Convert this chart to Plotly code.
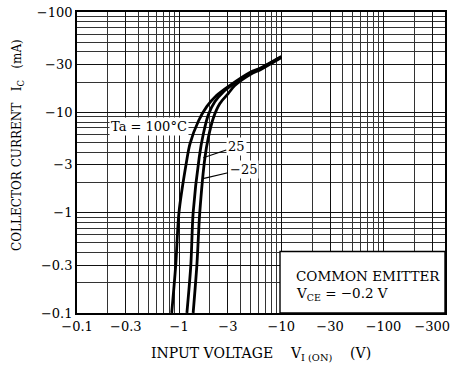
import plotly.graph_objects as go
import math

# ---- data ----
x_tickvals = [0.1, 0.3, 1, 3, 10, 30, 100, 300]
x_ticktext = ["\u22120.1", "\u22120.3", "\u22121", "\u22123", "\u221210", "\u221230", "\u2212100", "\u2212300"]
y_tickvals = [0.1, 0.3, 1, 3, 10, 30, 100]
y_ticktext = ["\u22120.1", "\u22120.3", "\u22121", "\u22123", "\u221210", "\u221230", "\u2212100"]

# |V_I(ON)| (V) and |I_C| (mA) for each ambient temperature
v_100 = [0.845, 0.925, 0.995, 1.166, 1.275, 1.54, 1.86, 2.33, 3.14, 4.93, 6.2, 10.0]
i_100 = [0.1, 0.3, 1.0, 3.0, 4.84, 8.15, 11.4, 14.8, 18.6, 25.0, 27.5, 36.0]
v_25 = [1.19, 1.30, 1.37, 1.573, 1.72, 1.93, 2.24, 2.70, 3.3, 4.95, 6.2, 10.0]
i_25 = [0.1, 0.3, 1.0, 3.59, 6.05, 9.48, 12.8, 16.0, 18.8, 24.6, 27.2, 35.6]
v_m25 = [1.37, 1.49, 1.59, 1.79, 1.93, 2.16, 2.51, 3.02, 3.5, 5.0, 6.3, 10.0]
i_m25 = [0.1, 0.3, 1.0, 3.59, 5.62, 8.8, 12.3, 15.4, 18.5, 24.0, 26.8, 35.2]

FONT = "DejaVu Serif"

fig = go.Figure()
for v, i in [(v_100, i_100), (v_25, i_25), (v_m25, i_m25)]:
    fig.add_trace(go.Scatter(x=v, y=i, mode="lines",
                             line=dict(color="black", width=2.8, shape="spline", smoothing=0.8),
                             showlegend=False, hoverinfo="skip"))

axis_common = dict(
    type="log", showgrid=True, gridcolor="#111", gridwidth=1.3,
    showline=True, linecolor="black", linewidth=1.8, mirror=True,
    ticks="", zeroline=False, ticklabeloverflow="allow",
    tickfont=dict(family=FONT, size=13, color="black"),
    minor=dict(dtick="D1", showgrid=True, gridcolor="#333", gridwidth=0.9),
)

fig.update_xaxes(range=[-1.0003, math.log10(400)], tickmode="array",
                 tickvals=x_tickvals, ticktext=x_ticktext, **axis_common)
fig.update_yaxes(range=[-1.0003, 2.0003], tickmode="array",
                 tickvals=y_tickvals, ticktext=y_ticktext, **axis_common)

W, H = 456, 369
L, R, T, B = 77, 11, 5, 56
pw, ph = W - L - R, H - T - B

def px(xp):
    return (xp - L) / pw

def py(yp):
    return (H - B - yp) / ph

# box holding the measurement condition
fig.add_shape(type="rect", xref="paper", yref="paper",
              x0=px(280), x1=1, y0=0, y1=py(250),
              fillcolor="white", line=dict(color="black", width=1.4), layer="above")

ann = []
ann.append(dict(text="COMMON EMITTER", xref="paper", yref="paper", x=px(294), y=py(275),
                xanchor="left", yanchor="middle", showarrow=False,
                font=dict(family=FONT, size=13.5, color="black")))
ann.append(dict(text="V<sub>CE</sub> = \u22120.2 V", xref="paper", yref="paper", x=px(294), y=py(294),
                xanchor="left", yanchor="middle", showarrow=False,
                font=dict(family=FONT, size=13.5, color="black")))
ann.append(dict(text="Ta = 100\u00b0C", xref="paper", yref="paper", x=px(149), y=py(122),
                xanchor="center", yanchor="middle", showarrow=False, bgcolor="white",
                font=dict(family=FONT, size=13, color="black")))
ann.append(dict(text="25", x=math.log10(1.72), y=math.log10(3.53), xref="x", yref="y",
                ax=33, ay=-11, showarrow=True, arrowhead=0, arrowwidth=1.2, arrowcolor="black",
                bgcolor="white", font=dict(family=FONT, size=13, color="black")))
ann.append(dict(text="\u221225", x=math.log10(1.75), y=math.log10(2.2), xref="x", yref="y",
                ax=39, ay=-9, showarrow=True, arrowhead=0, arrowwidth=1.2, arrowcolor="black",
                bgcolor="white", font=dict(family=FONT, size=13, color="black")))
ann.append(dict(text="COLLECTOR CURRENT\u00a0\u00a0\u00a0I<sub>C</sub>\u00a0\u00a0\u00a0(mA)", xref="paper", yref="paper",
                x=px(18), y=py(141), textangle=-90, showarrow=False,
                xanchor="center", yanchor="middle",
                font=dict(family=FONT, size=12, color="black")))
ann.append(dict(text="INPUT VOLTAGE\u00a0\u00a0\u00a0\u00a0V<sub>I (ON)</sub>\u00a0\u00a0\u00a0\u00a0(V)", xref="paper", yref="paper",
                x=px(261), y=py(355), showarrow=False,
                xanchor="center", yanchor="middle",
                font=dict(family=FONT, size=14, color="black")))

fig.update_layout(width=W, height=H, margin=dict(l=L, r=R, t=T, b=B),
                  paper_bgcolor="white", plot_bgcolor="white",
                  annotations=ann, showlegend=False)

fig.write_html("out.html", config={"displayModeBar": False},
               post_script="document.body.style.margin='0';document.body.style.overflow='hidden';")
